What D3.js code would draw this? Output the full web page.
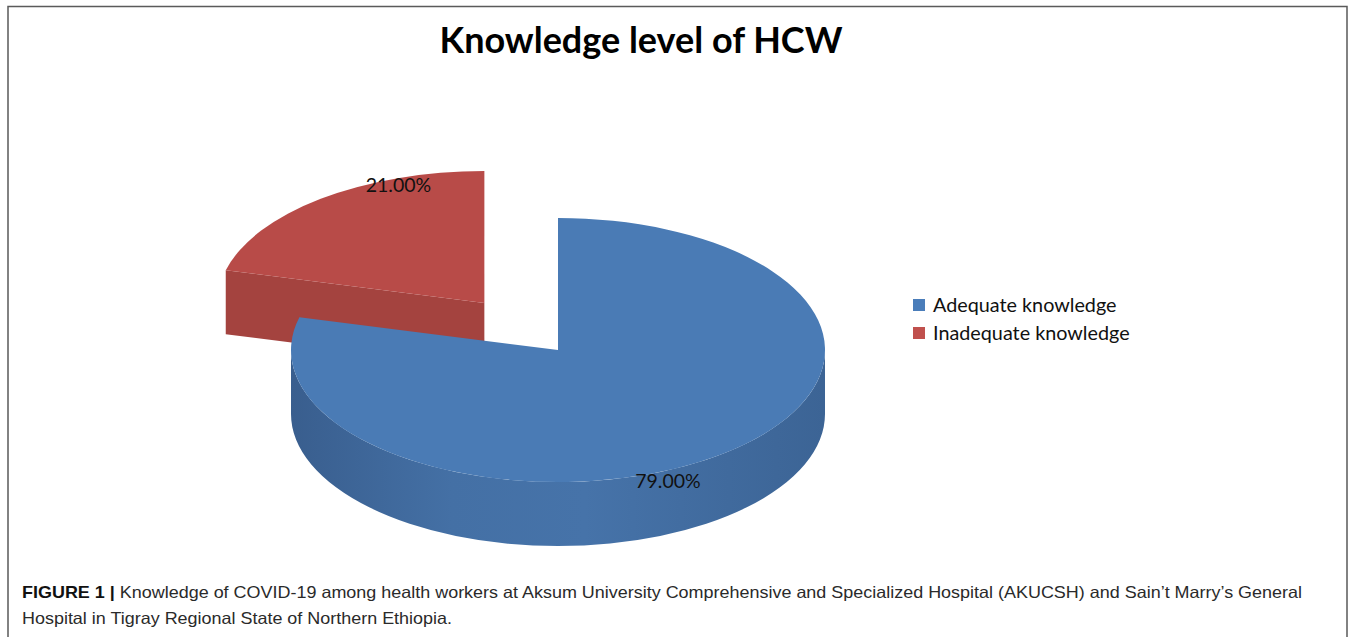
<!DOCTYPE html>
<html>
<head>
<meta charset="utf-8">
<script src="https://cdn.jsdelivr.net/npm/d3@7"></script>
<style>
  body { margin: 0; background: #fff; }
  svg { display: block; }
</style>
</head>
<body>
<svg id="chart" width="1358" height="637"></svg>
<script>

/////////////////////
// Data
/////////////////////

var categories = ["Adequate knowledge", "Inadequate knowledge"];
var values = [79, 21];
var valueLabels = ["79.00%", "21.00%"];
var titleText = "Knowledge level of HCW";
var captionBold = "FIGURE 1 |";
var captionLines = [
    " Knowledge of COVID-19 among health workers at Aksum University Comprehensive and Specialized Hospital (AKUCSH) and Sain\u2019t Marry\u2019s General",
    "Hospital in Tigray Regional State of Northern Ethiopia."
];

/////////////////////
// Layout and style
/////////////////////

var pieGeom = {cx: 558, cy: 350, rx: 267, ry: 132, depth: 64};
var explode = [0, 0.45];                      // fraction of radius, per slice
var labelFactor = [[0.672, 1.256], [0.525, 1.13]];
var topColor = ["#4a7bb5", "#b84b48"];
var faceColor = ["#3f6a9e", "#a4433f"];
var legendColor = ["#4a7dba", "#c0504d"];

var svg = d3.select("#chart");
var defs = svg.append("defs");

// side gradients
function sideGradient(id, stops) {
    var g = defs.append("linearGradient")
        .attr("id", id)
        .attr("x1", "0%").attr("x2", "100%")
        .attr("y1", "0%").attr("y2", "0%");
    stops.forEach(function(s) {
        g.append("stop").attr("offset", s[0]).attr("stop-color", s[1]);
    });
}
sideGradient("sideBlue", [["0%", "#395e8e"], ["30%", "#4470a5"], ["55%", "#4673a9"], ["100%", "#3c6495"]]);
sideGradient("sideRed", [["0%", "#9a3e3b"], ["50%", "#a9453f"], ["100%", "#9c3f3c"]]);
var sideColor = ["url(#sideBlue)", "url(#sideRed)"];

// frame
svg.append("path")
    .attr("d", "M8,637V6.5H1347V637")
    .attr("fill", "none")
    .attr("stroke", "#5a5a5a")
    .attr("stroke-width", 1.5);

// title
svg.append("text")
    .attr("x", 641)
    .attr("y", 53)
    .attr("text-anchor", "middle")
    .attr("font-family", "Lato, 'Open Sans', sans-serif")
    .attr("font-weight", "bold")
    .attr("font-size", 37)
    .attr("fill", "#000")
    .attr("textLength", 403)
    .attr("lengthAdjust", "spacingAndGlyphs")
    .text(titleText);

/////////////////////
// 3D pie
/////////////////////

var pie = d3.pie()
    .sort(null)
    .value(function(d) { return d; });

var arcs = pie(values).map(function(a, i) {
    var mid = (a.startAngle + a.endAngle) / 2;
    var k = explode[i];
    return {
        i: i,
        a0: a.startAngle,
        a1: a.endAngle,
        mid: mid,
        cx: pieGeom.cx + pieGeom.rx * k * Math.sin(mid),
        cy: pieGeom.cy - pieGeom.ry * k * Math.cos(mid)
    };
});

function pt(s, ang, dz) {
    return [s.cx + pieGeom.rx * Math.sin(ang), s.cy - pieGeom.ry * Math.cos(ang) + dz];
}

function topPath(s) {
    var p0 = pt(s, s.a0, 0), p1 = pt(s, s.a1, 0);
    var large = (s.a1 - s.a0) > Math.PI ? 1 : 0;
    return "M" + s.cx + "," + s.cy +
        "L" + p0 + "A" + pieGeom.rx + "," + pieGeom.ry + " 0 " + large + " 1 " + p1 + "Z";
}

function sidePath(s, b0, b1) {
    var d = pieGeom.depth;
    var p0 = pt(s, b0, 0), p1 = pt(s, b1, 0), q1 = pt(s, b1, d), q0 = pt(s, b0, d);
    var large = (b1 - b0) > Math.PI ? 1 : 0;
    return "M" + p0 + "A" + pieGeom.rx + "," + pieGeom.ry + " 0 " + large + " 1 " + p1 +
        "L" + q1 + "A" + pieGeom.rx + "," + pieGeom.ry + " 0 " + large + " 0 " + q0 + "Z";
}

function facePath(s, ang) {
    var d = pieGeom.depth;
    return "M" + s.cx + "," + s.cy + "L" + pt(s, ang, 0) + "L" + pt(s, ang, d) +
        "L" + s.cx + "," + (s.cy + d) + "Z";
}

// back slices first
var order = arcs.slice().sort(function(a, b) { return a.cy - b.cy; });

var pieG = svg.append("g").attr("class", "pie3d");

order.forEach(function(s) {
    var g = pieG.append("g").attr("class", "slice");

    // radial cut faces turned toward the viewer
    if (Math.cos(s.a0 - Math.PI / 2) < -1e-6) {
        g.append("path").attr("d", facePath(s, s.a0)).attr("fill", faceColor[s.i]);
    }
    if (Math.cos(s.a1 + Math.PI / 2) < -1e-6) {
        g.append("path").attr("d", facePath(s, s.a1)).attr("fill", faceColor[s.i]);
    }

    // outer wall on the front half
    var b0 = Math.max(s.a0, Math.PI / 2), b1 = Math.min(s.a1, 3 * Math.PI / 2);
    if (b1 > b0) {
        g.append("path").attr("d", sidePath(s, b0, b1)).attr("fill", sideColor[s.i]);
    }

    g.append("path").attr("d", topPath(s)).attr("fill", topColor[s.i]);
});

// data labels
pieG.selectAll(".label")
    .data(arcs)
  .enter().append("text")
    .attr("class", "label")
    .attr("x", function(s) { return s.cx + pieGeom.rx * labelFactor[s.i][0] * Math.sin(s.mid); })
    .attr("y", function(s) { return s.cy - pieGeom.ry * labelFactor[s.i][1] * Math.cos(s.mid); })
    .attr("dy", ".35em")
    .attr("text-anchor", "middle")
    .attr("font-family", "Lato, 'Open Sans', sans-serif")
    .attr("font-size", 19.5)
    .attr("fill", "#111")
    .text(function(s) { return valueLabels[s.i]; });

/////////////////////
// Legend
/////////////////////

var legend = svg.append("g")
    .attr("class", "legend")
    .attr("transform", "translate(913,299)")
  .selectAll("g")
    .data(categories)
  .enter().append("g")
    .attr("transform", function(d, i) { return "translate(0," + i * 28 + ")"; });
legend.append("rect")
    .attr("width", 12)
    .attr("height", 12)
    .style("fill", function(d, i) { return legendColor[i]; });
legend.append("text")
    .attr("x", 20)
    .attr("y", 6)
    .attr("dy", ".36em")
    .attr("font-family", "Lato, 'Open Sans', sans-serif")
    .attr("font-size", 19.8)
    .attr("fill", "#111")
    .text(function(d) { return d; });

/////////////////////
// Caption
/////////////////////

var cap = svg.append("g")
    .attr("font-family", "'Liberation Sans', Arial, sans-serif")
    .attr("font-size", 16.5)
    .attr("fill", "#2a2a2a");

var line1 = cap.append("text")
    .attr("x", 22).attr("y", 598)
    .attr("textLength", 1280)
    .attr("lengthAdjust", "spacingAndGlyphs");
line1.append("tspan").attr("font-weight", "bold").attr("fill", "#111").text(captionBold);
line1.append("tspan").text(captionLines[0]);
cap.append("text")
    .attr("x", 22).attr("y", 624)
    .attr("textLength", 430)
    .attr("lengthAdjust", "spacingAndGlyphs")
    .text(captionLines[1]);

</script>
</body>
</html>
